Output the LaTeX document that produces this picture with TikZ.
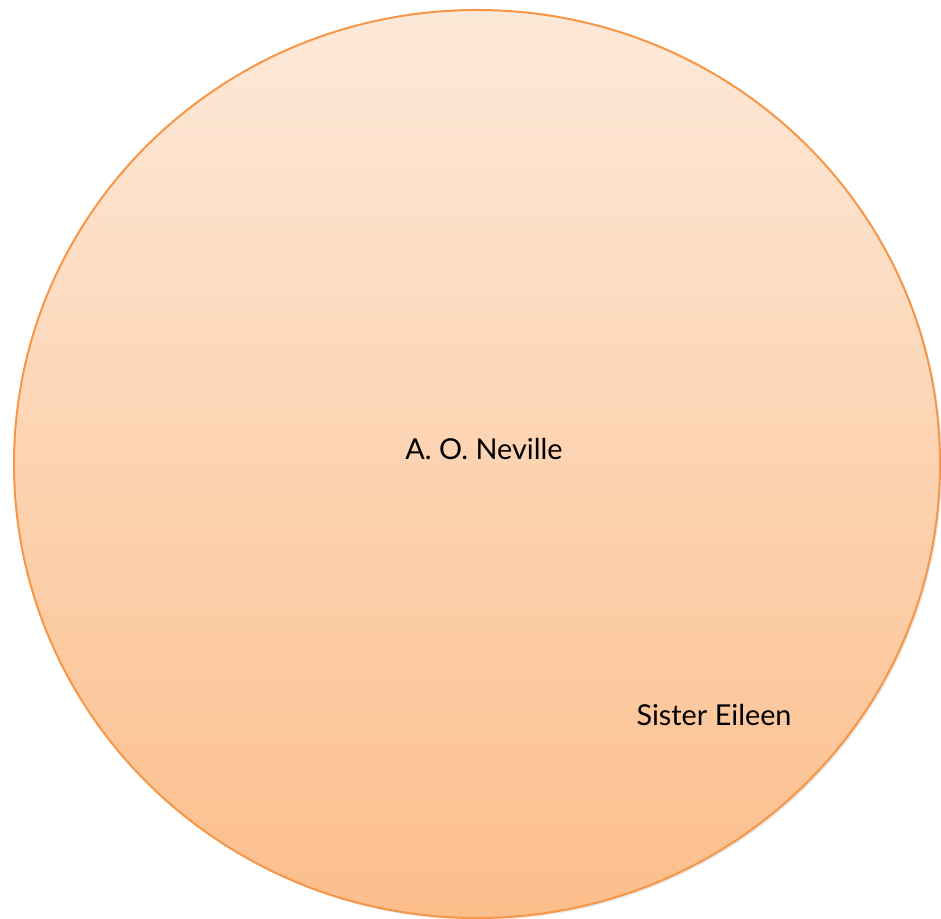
\documentclass[tikz,border=0pt]{standalone}
\usepackage{fontspec}
\setmainfont{Lato}
\usetikzlibrary{shapes.geometric,shadows}

\definecolor{ringorange}{HTML}{F79646}
\definecolor{fadetop}{HTML}{FDE9D9}
\definecolor{fadebottom}{HTML}{FCBE8B}

\begin{document}
\begin{tikzpicture}[
    x=0.5pt, y=-0.5pt,
    blob/.style={ellipse, draw=ringorange, line width=1pt, inner sep=0pt,
                 minimum width=463pt, minimum height=454pt,
                 top color=fadetop, bottom color=fadebottom,
                 drop shadow={opacity=0.18, shadow xshift=1pt, shadow yshift=-1pt}},
    person/.style={font=\fontsize{14.4}{17}\selectfont, text=black, inner sep=0pt}
]
\useasboundingbox (0,0) rectangle (941,919);
\node[blob] (ring) at (477,464) {};
\node[person] (neville) at (484,449) {A. O. Neville};
\node[person] (eileen) at (714,715) {Sister Eileen};
\end{tikzpicture}
\end{document}
